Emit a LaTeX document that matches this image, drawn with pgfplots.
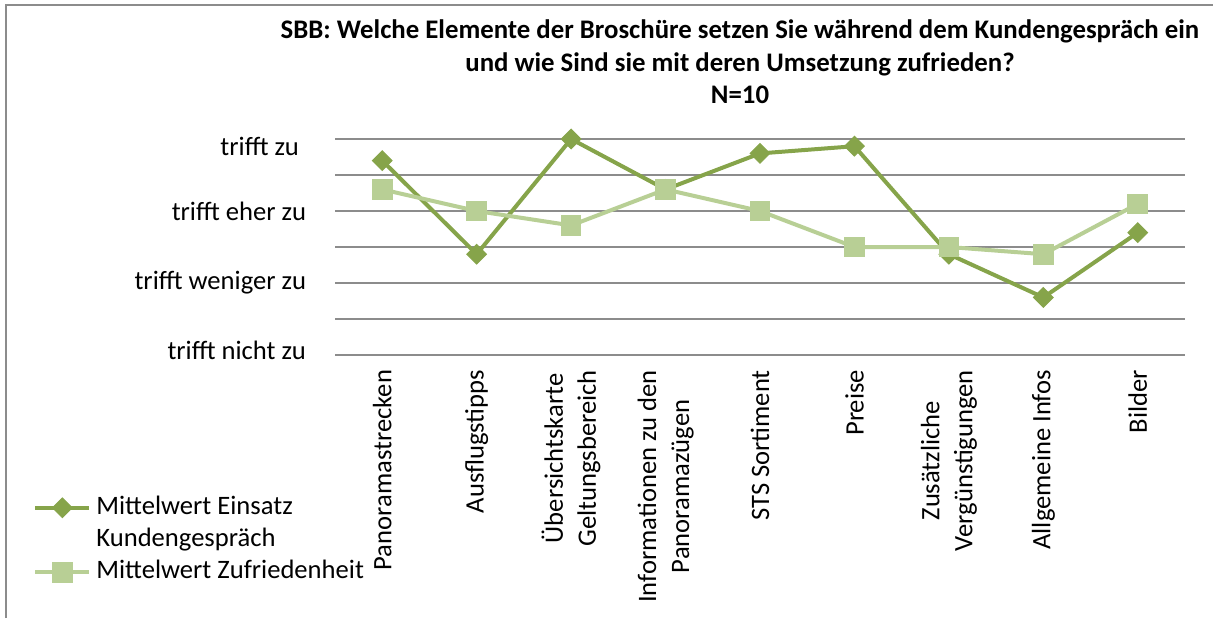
\documentclass[border=0pt]{standalone}
\usepackage{pgfplots}
\pgfplotsset{compat=1.18}
\usepackage{fontspec}
\setmainfont{Carlito}
\definecolor{dgreen}{RGB}{134,164,74}
\definecolor{lgreen}{RGB}{184,207,149}
\definecolor{gridgray}{RGB}{140,140,140}
\begin{document}
\begin{tikzpicture}
\useasboundingbox (0pt,0pt) rectangle (606.5pt,309pt);
\draw[gridgray, line width=1pt] (3pt,0pt) -- (3pt,306.5pt) -- (606.5pt,306.5pt);
\node[align=center, font=\bfseries\fontsize{13.4}{16.25}\selectfont] at (370pt,278pt)
  {SBB: Welche Elemente der Broschüre setzen Sie während dem Kundengespräch ein\\und wie Sind sie mit deren Umsetzung zufrieden?\\N=10};
\begin{axis}[
  at={(167.5pt,131.5pt)}, anchor=south west, scale only axis,
  width=425pt, height=108pt,
  xmin=-0.5, xmax=8.5, ymin=1, ymax=4,
  xtick={0,1,2,3,4,5,6,7,8},
  xticklabels={Panoramastrecken,Ausflugstipps,{Übersichtskarte\\Geltungsbereich},{Informationen zu den\\Panoramazügen},STS Sortiment,Preise,{Zusätzliche\\Vergünstigungen},Allgemeine Infos,Bilder},
  ytick={1,1.5,2,2.5,3,3.5,4},
  yticklabels={,,,,,,},
  extra y ticks={1.07,2,2.99,3.89},
  extra y tick labels={trifft nicht zu,trifft weniger zu,trifft eher zu,trifft zu\hspace*{3.5pt}},
  extra y tick style={grid=none},
  ymajorgrids, grid style={gridgray, line width=1pt},
  axis line style={draw=none},
  major tick length=0pt,
  tick label style={font=\fontsize{13.3}{16.5}\selectfont},
  xticklabel style={rotate=90, anchor=east, align=center},
  xticklabel shift=4pt, yticklabel shift=11pt,
  clip=false,
  legend style={at={(axis description cs:-0.3553,-0.8565)}, anchor=west, draw=none, fill=none, inner sep=0pt,
    font=\fontsize{13.3}{16}\selectfont, nodes={inner sep=0pt, text height=11.3pt, text depth=4.8pt}, column sep=2.5pt},
  legend cell align=left,
  legend image code/.code={\draw[mark repeat=2,mark phase=2] plot coordinates {(0pt,0pt) (13.5pt,0pt) (27pt,0pt)};},
]
\addplot[dgreen, line width=2pt, mark=square*, mark size=3.47pt, mark options={rotate=45, solid, line width=0.5pt}]
  coordinates {(0,3.7) (1,2.4) (2,4.0) (3,3.3) (4,3.8) (5,3.9) (6,2.4) (7,1.8) (8,2.7)};
\addlegendentry{Mittelwert Einsatz}
\addlegendimage{empty legend}
\addlegendentry{Kundengespräch}
\addplot[lgreen, line width=2pt, mark=square*, mark size=4.9pt, mark options={solid, line width=0.5pt}]
  coordinates {(0,3.3) (1,3.0) (2,2.8) (3,3.3) (4,3.0) (5,2.5) (6,2.5) (7,2.4) (8,3.1)};
\addlegendentry{Mittelwert Zufriedenheit}
\end{axis}
\end{tikzpicture}
\end{document}
